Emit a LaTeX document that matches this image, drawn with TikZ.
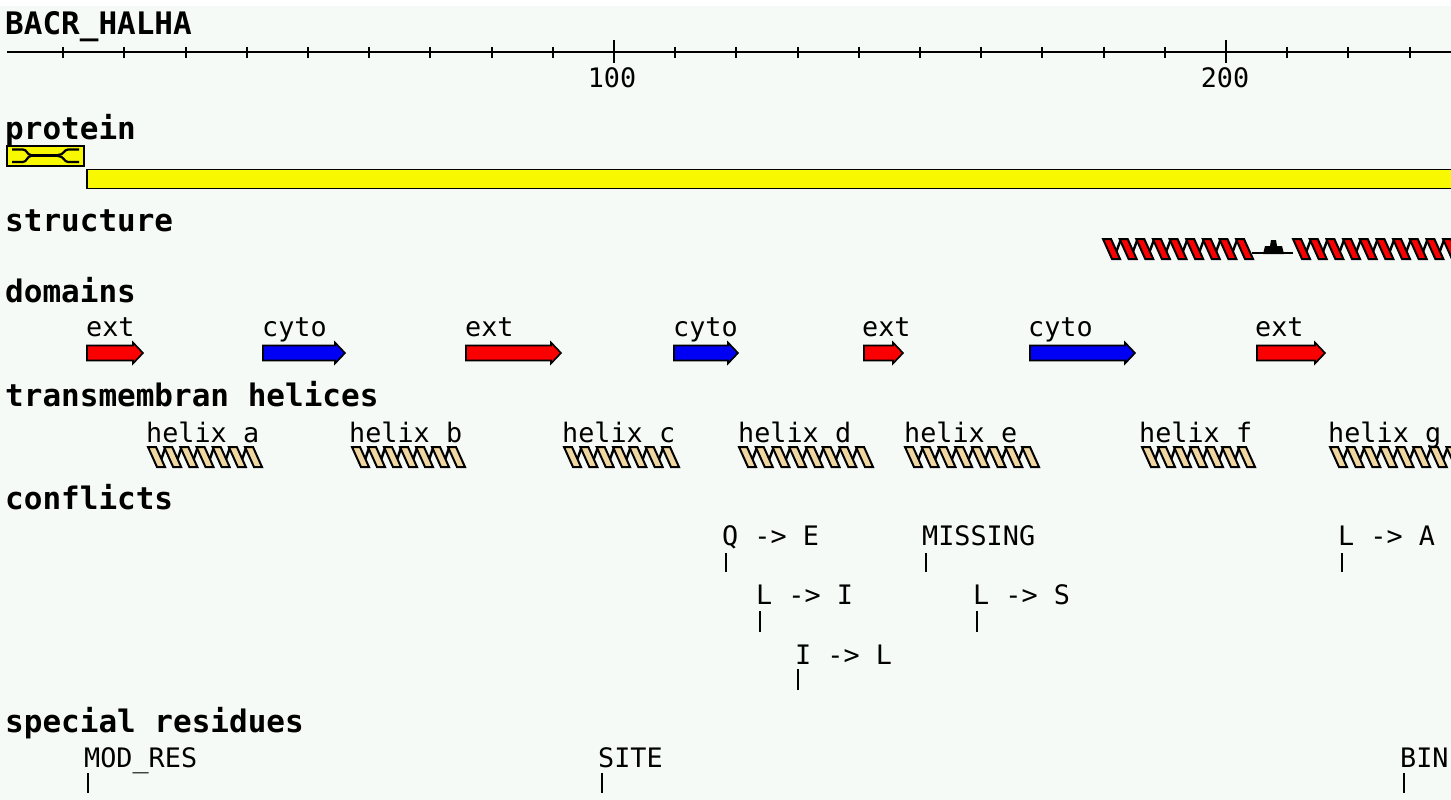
\documentclass[tikz,border=0pt]{standalone}
\usepackage{fontspec}
\setmonofont{DejaVu Sans Mono}
\definecolor{bg}{RGB}{246,250,247}
\definecolor{tanhx}{RGB}{240,214,160}
\definecolor{redhx}{RGB}{250,0,0}
\definecolor{protyel}{RGB}{248,248,0}
\definecolor{domred}{RGB}{250,0,0}
\definecolor{domblue}{RGB}{0,0,245}
\newcommand\hlx[5]{%
  \pgfmathsetmacro\hp{(#2-#1-17)/(#3-1)}%
  \foreach \k in {1,...,#3}{%
    \pgfmathsetmacro\xa{#1+(\k-1)*\hp}%
    \ifnum\k<#3 \draw[line width=2.4pt] (\xa+11,#4+19) -- (\xa+\hp+1,#4+1);\fi
    \filldraw[fill=#5,draw=black,line width=2pt] (\xa,#4) -- (\xa+8,#4) -- (\xa+17,#4+20) -- (\xa+9,#4+20) -- cycle;
  }%
}
\newcommand\domarr[3]{%
  \filldraw[fill=#3,draw=black,line width=1.6pt] (#1,345.5) -- (#2-10,345.5) -- (#2-10,342.5) -- (#2,353) -- (#2-10,363.5) -- (#2-10,360.5) -- (#1,360.5) -- cycle;
}
\tikzset{
  hd/.style={font=\fontsize{31}{32}\selectfont\ttfamily\bfseries,anchor=base west,inner sep=0pt},
  lb/.style={font=\fontsize{26.8}{28}\selectfont\ttfamily,anchor=base west,inner sep=0pt},
  mark line/.style={line width=2pt},
  outl/.style={draw=black,line width=1.8pt}
}
\begin{document}
\begin{tikzpicture}[x=1pt,y=-1pt]
\useasboundingbox (0,0) rectangle (1451,800);
\fill[white] (0,0) rectangle (1451,6);
\fill[bg] (0,6) rectangle (1451,800);
\begin{scope}
\clip (0,0) rectangle (1451,800);
% title and ruler
\node[hd] (title) at (5,35) {BACR\_HALHA};
\draw[line width=2.2pt] (7,52) -- (1455,52);
\foreach \r in {10,20,...,230}{
  \draw[line width=2pt] ({2+6.12*\r},47) -- ({2+6.12*\r},58);
}
\draw[line width=2pt] (614,40) -- (614,63);
\draw[line width=2pt] (1226,40) -- (1226,63);
\node[lb,anchor=base] (t100) at (612,88) {100};
\node[lb,anchor=base] (t200) at (1225,88) {200};
% protein
\node[hd] (protein) at (5,139) {protein};
\filldraw[fill=protyel,outl] (7,146) rectangle (84,166);
\draw[line width=2.2pt] (12,149.5) -- (23,149.5) .. controls (27,149.5) and (27,155) .. (31,155);
\draw[line width=2.2pt] (12,162) -- (23,162) .. controls (27,162) and (27,156) .. (31,156);
\draw[line width=3.5pt] (31,155.5) -- (58,155.5);
\draw[line width=2.2pt] (79,149.5) -- (68,149.5) .. controls (64,149.5) and (64,155) .. (58,155);
\draw[line width=2.2pt] (79,162) -- (68,162) .. controls (64,162) and (64,156) .. (58,156);
\filldraw[fill=protyel,outl] (87,169.5) rectangle (1460,188.5);
% structure
\node[hd] (structure) at (5,231) {structure};
\hlx{1103}{1253}{9}{239}{redhx}
\draw[line width=2.2pt] (1252,253) -- (1293,253);
\fill (1263,254) -- (1265,246) -- (1270,246) -- (1271,240) -- (1276,240) -- (1277,246) -- (1282,246) -- (1284,254) -- cycle;
\hlx{1293}{1460}{10}{239}{redhx}
% domains
\node[hd] (domains) at (5,302) {domains};
\node[lb] (d1) at (86,336) {ext};
\node[lb] (d2) at (262,336) {cyto};
\node[lb] (d3) at (465,336) {ext};
\node[lb] (d4) at (673,336) {cyto};
\node[lb] (d5) at (862,336) {ext};
\node[lb] (d6) at (1028,336) {cyto};
\node[lb] (d7) at (1255,336) {ext};
\domarr{87}{143}{domred}
\domarr{263}{345}{domblue}
\domarr{466}{561}{domred}
\domarr{674}{738}{domblue}
\domarr{864}{903}{domred}
\domarr{1030}{1135}{domblue}
\domarr{1257}{1325}{domred}
% transmembrane helices
\node[hd] (tm) at (5,406) {transmembran helices};
\node[lb] (ha) at (146,442) {helix a};
\node[lb] (hb) at (349,442) {helix b};
\node[lb] (hc) at (562,442) {helix c};
\node[lb] (hd) at (738,442) {helix d};
\node[lb] (he) at (904,442) {helix e};
\node[lb] (hf) at (1139,442) {helix f};
\node[lb] (hg) at (1328,442) {helix g};
\hlx{148}{262}{7}{447}{tanhx}
\hlx{352}{465}{7}{447}{tanhx}
\hlx{564}{679}{7}{447}{tanhx}
\hlx{739}{873}{8}{447}{tanhx}
\hlx{905}{1039}{8}{447}{tanhx}
\hlx{1142}{1255}{7}{447}{tanhx}
\hlx{1330}{1480}{9}{447}{tanhx}
% conflicts
\node[hd] (conflicts) at (5,509) {conflicts};
\node[lb] (c1) at (722,545) {Q -> E};
\draw[mark line] (726,553) -- (726,572);
\node[lb] (c2) at (922,545) {MISSING};
\draw[mark line] (926,553) -- (926,572);
\node[lb] (c3) at (1338,545) {L -> A};
\draw[mark line] (1342,553) -- (1342,572);
\node[lb] (c4) at (756,604) {L -> I};
\draw[mark line] (760,611) -- (760,632);
\node[lb] (c5) at (973,604) {L -> S};
\draw[mark line] (977,611) -- (977,632);
\node[lb] (c6) at (795,664) {I -> L};
\draw[mark line] (798,669) -- (798,690);
% special residues
\node[hd] (special) at (5,732) {special residues};
\node[lb] (s1) at (84,767) {MOD\_RES};
\draw[mark line] (88,773) -- (88,793);
\node[lb] (s2) at (598,767) {SITE};
\draw[mark line] (602,773) -- (602,793);
\node[lb] (s3) at (1400,767) {BIN};
\draw[mark line] (1404,773) -- (1404,793);
\end{scope}
\end{tikzpicture}
\end{document}
